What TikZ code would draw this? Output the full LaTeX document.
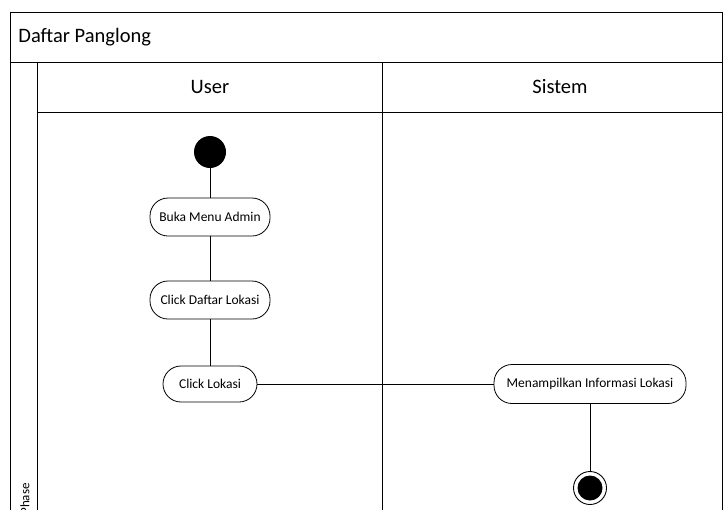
\documentclass[tikz,border=0pt]{standalone}
\usepackage{fontspec}
\setmainfont{Carlito}
\begin{document}
\begin{tikzpicture}[x=1pt,y=-1pt,line width=0.8pt,
  act/.style={draw,rounded corners=18pt,minimum height=38pt,inner xsep=4pt,font=\fontsize{13.5}{15}\selectfont,fill=white},
  hdr/.style={font=\fontsize{20.5}{23}\selectfont},
  flow/.style={draw}]
\useasboundingbox (0,0) rectangle (723,509);
\clip (0,0) rectangle (723,509);
% frame
\draw (10,12) -- (722,12) -- (722,520);
\draw (10,12) -- (10,520);
\node[anchor=west,hdr,inner sep=0pt] (title) at (18,37) {Daftar Panglong};
\draw (10,62) -- (722,62);
\draw (37,62) -- (37,520);
\draw (37,112) -- (722,112);
\draw (382,62) -- (382,520);
\node[hdr] (user) at (210,87) {User};
\node[hdr] (sistem) at (560,87) {Sistem};
\node[rotate=90,anchor=west,font=\fontsize{13}{15}\selectfont,inner sep=0pt] (phase) at (25,515) {Phase};
% nodes
\node[circle,fill=black,minimum size=32pt,inner sep=0pt] (start) at (210,152) {};
\node[act,minimum width=120pt] (buka) at (210,217) {Buka Menu Admin};
\node[act,minimum width=120pt] (daftar) at (210,300) {Click Daftar Lokasi};
\node[act,minimum width=94pt,minimum height=36pt] (klik) at (210,384) {Click Lokasi};
\node[act,minimum width=192pt,minimum height=39pt] (info) at (590,384) {Menampilkan Informasi Lokasi};
\node[circle,draw,line width=0.9pt,minimum size=33pt,inner sep=0pt] (end) at (590,488) {};
\node[circle,fill=black,minimum size=25pt,inner sep=0pt] (endin) at (590,488) {};
% connectors
\draw[flow] (start) -- (buka);
\draw[flow] (buka) -- (daftar);
\draw[flow] (daftar) -- (klik);
\draw[flow] (klik) -- (info);
\draw[flow] (info) -- (end);
\end{tikzpicture}
\end{document}
